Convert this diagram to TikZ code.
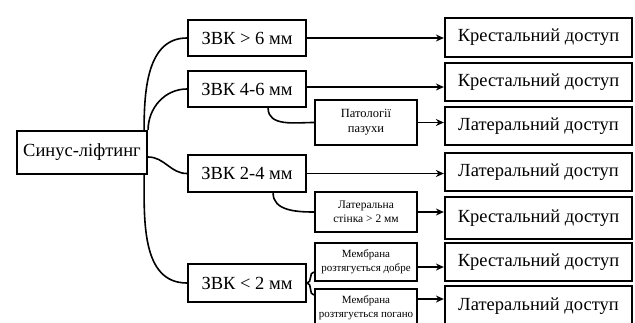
\documentclass[tikz,border=0pt]{standalone}
\usepackage{fontspec}
\setmainfont{Liberation Serif}
\usetikzlibrary{arrows.meta,shapes,calc}
\tikzset{
    >={Stealth[length=8pt, width=7pt]},
    box/.style={
        draw=black,
        line width=2.2pt,
        inner sep=1pt,
        align=center,
        font=\fontsize{18.5}{20}\selectfont,
    },
    zvk/.style={
        box,
        minimum width=118pt,
        minimum height=36pt,
    },
    endbox/.style={
        box,
        minimum width=187pt,
        minimum height=38pt,
    },
    cond/.style={
        box,
        minimum width=102pt,
        minimum height=40pt,
        font=\fontsize{11.5}{14}\selectfont,
    },
    link/.style={
        line width=1.6pt,
    },
    arr/.style={
        link,
        ->,
    },
}

\begin{document}
\begin{tikzpicture}[x=1pt, y=-1pt]
            \clip (0,0) rectangle (635,322);

            \node[box, minimum width=130pt, minimum height=43pt] (root) at (82,152.5) {Синус-ліфтинг};

            \node[zvk] (g6) at (247,38) {ЗВК > 6 мм};
            \node[zvk] (g46) at (247,89) {ЗВК 4-6 мм};
            \node[zvk, minimum height=37pt] (g24) at (247,173.5) {ЗВК 2-4 мм};
            \node[zvk, minimum height=38pt] (g2) at (247,283) {ЗВК < 2 мм};

            \node[cond, minimum height=45pt, font=\fontsize{12.5}{15}\selectfont] (pat) at (366,122.5) {Патології\\пазухи};
            \node[cond] (lat) at (366,212) {Латеральна\\стінка > 2 мм};
            \node[cond, minimum height=38pt, font=\fontsize{11}{14}\selectfont] (memgood) at (366,262) {Мембрана\\розтягується добре};
            \node[cond, minimum height=38pt, font=\fontsize{11}{14}\selectfont] (membad) at (366,308) {Мембрана\\розтягується погано};

            \node[endbox, minimum height=39pt] (k1) at (538.5,37.5) {Крестальний доступ};
            \node[endbox] (k2) at (538.5,82) {Крестальний доступ};
            \node[endbox] (l1) at (538.5,126) {Латеральний доступ};
            \node[endbox] (l2) at (538.5,172) {Латеральний доступ};
            \node[endbox, minimum height=42pt] (k3) at (538.5,218) {Крестальний доступ};
            \node[endbox] (k4) at (538.5,262) {Крестальний доступ};
            \node[endbox, minimum height=40pt] (l3) at (538.5,306) {Латеральний доступ};

            % root to the four groups
            \draw[link] ([xshift=-4pt]root.north east) to[out=90, in=180] (g6.west);
            \draw[link] (root.north east) to[out=90, in=180] (g46.west);
            \draw[link] ([yshift=-4.5pt]root.east) to[out=0, in=180] (g24.west);
            \draw[link] ([xshift=-4pt]root.south east) to[out=-90, in=180] (g2.west);

            % side branches
            \draw[link] ([xshift=-39pt]g46.south east) to[out=-90, in=180] (pat.west);
            \draw[link] ([xshift=-34pt]g24.south east) to[out=-90, in=180] (lat.west);
            \draw[link] (g2.east) to[out=0, in=180] ([yshift=-10pt]memgood.west);
            \draw[link] (g2.east) to[out=0, in=180] ([yshift=13pt]membad.west);

            % arrows to the approaches
            \draw[arr] (g6.east) -- (g6.east -| k1.west);
            \draw[arr] ([yshift=2pt]g46.east) -- ([yshift=2pt]g46.east -| k2.west);
            \draw[arr] (pat.east) -- (pat.east -| l1.west);
            \draw[arr] (g24.east) -- (g24.east -| l2.west);
            \draw[arr] (lat.east) -- (lat.east -| k3.west);
            \draw[arr] ([yshift=-5pt]memgood.east) -- ([yshift=-5pt]memgood.east -| k4.west);
            \draw[arr] ([yshift=9pt]membad.east) -- ([yshift=9pt]membad.east -| l3.west);
        \end{tikzpicture}
\end{document}
